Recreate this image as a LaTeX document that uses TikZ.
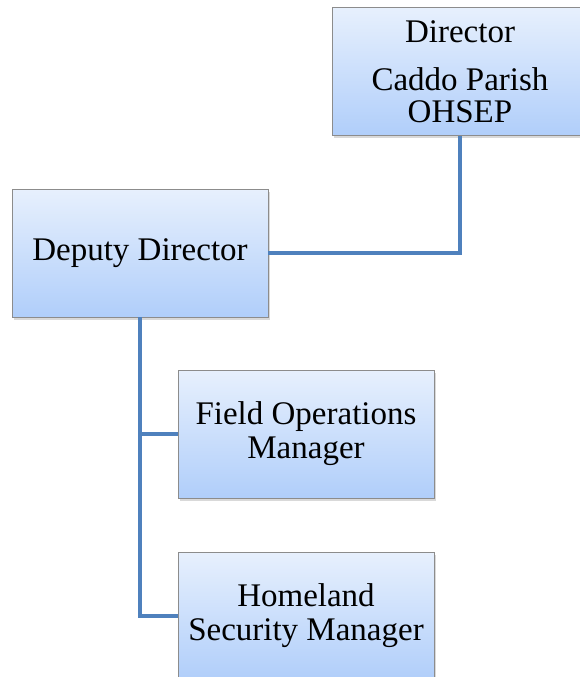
\documentclass[tikz,border=0pt]{standalone}
\usepackage{fontspec}
\setmainfont{Liberation Serif}
\usepackage{tikz}
\usetikzlibrary{shadows}
\definecolor{linkblue}{RGB}{79,129,189}
\definecolor{boxtop}{RGB}{231,240,253}
\definecolor{boxbot}{RGB}{176,206,250}

\begin{document}
\begin{tikzpicture}[x=1pt,y=-1pt]
		\tikzset{box/.style={rectangle,draw=black!45,line width=0.8pt,top color=boxtop,bottom color=boxbot,
				minimum width=256pt,minimum height=128pt,inner sep=0pt,align=center,
				font=\fontsize{33}{34}\selectfont,
				drop shadow={opacity=0.3,shadow xshift=1.5pt,shadow yshift=-2.5pt}}};
		\tikzset{link/.style={draw=linkblue,line width=4pt}};
		
		\useasboundingbox (0,0) rectangle (579,677);
		
		\node (dir) at (460,71.5) [box]{Director\\[14pt]Caddo Parish\\[-2pt]OHSEP};
		\node (dep) at (140,253) [box]{Deputy Director};
		\node (field) at (306,434) [box]{Field Operations\\Manager};
		\node (home) at (306,616) [box]{Homeland\\Security Manager};
		
		\draw [link] (dir.south) |- (dep.east);
		\draw [link] (dep.south) |- (field.west);
		\draw [link] (dep.south) |- (home.west);
		\end{tikzpicture}
\end{document}
